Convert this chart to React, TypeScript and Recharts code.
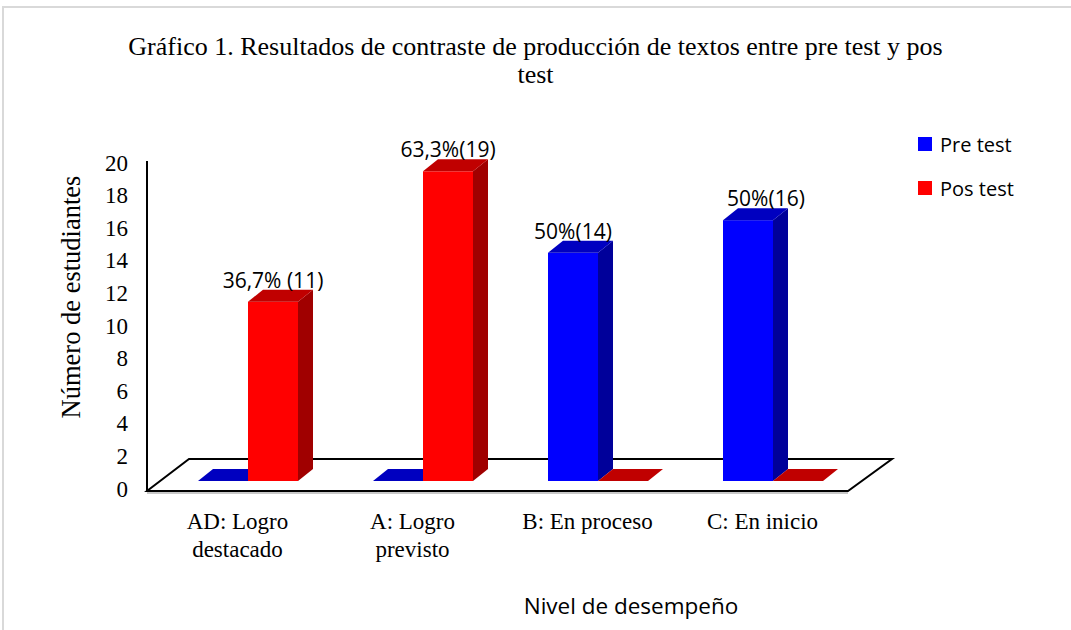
import React from "react";
import { Bar, BarChart, LabelList, Legend, ReferenceArea, XAxis, YAxis } from "recharts";

// data
const categories = ["AD: Logro\ndestacado", "A: Logro\nprevisto", "B: En proceso", "C: En inicio"];
const preTest = [0, 0, 14, 16];
const posTest = [11, 19, 0, 0];
const preLabels = ["", "", "50%(14)", "50%(16)"];
const posLabels = ["36,7% (11)", "63,3%(19)", "", ""];
const yTicks = [0, 2, 4, 6, 8, 10, 12, 14, 16, 18, 20];

const data = categories.map((cat, i) => ({
  cat,
  pre: preTest[i],
  pos: posTest[i],
  preLabel: preLabels[i],
  posLabel: posLabels[i],
}));

const SERIF = '"Liberation Serif", "Times New Roman", serif';
const SANS = '"Open Sans", Calibri, sans-serif';

const DEPTH_X = 15;
const DEPTH_Y = 12;

const palette = {
  pre: { front: "#0000ff", side: "#00009a", top: "#0000c0" },
  pos: { front: "#ff0000", side: "#a00000", top: "#c00000" },
};

// 3d-looking column: front face, right face and top face
const makeBox = (c: { front: string; side: string; top: string }) => (props: any) => {
  const { x, y, width, height } = props;
  const w = width;
  const topFace = `${x},${y} ${x + w},${y} ${x + w + DEPTH_X},${y - DEPTH_Y} ${x + DEPTH_X},${y - DEPTH_Y}`;
  if (!height || height < 0.5) {
    return <polygon points={topFace} fill={c.top} />;
  }
  const b = y + height;
  const side = `${x + w},${b} ${x + w + DEPTH_X},${b - DEPTH_Y} ${x + w + DEPTH_X},${y - DEPTH_Y} ${x + w},${y}`;
  return (
    <g>
      <rect x={x} y={y} width={w} height={height} fill={c.front} />
      <polygon points={side} fill={c.side} />
      <polygon points={topFace} fill={c.top} />
    </g>
  );
};

// floor plane + left wall edge, placed from the plot area
const Floor = (props: any) => {
  const { x, y, width, height } = props;
  const b = y + height;
  const r = x + width;
  const pts = `${x - 13},${b + 10} ${r - 12},${b + 10} ${r + 32},${b - 22} ${x + 29},${b - 22}`;
  return (
    <g>
      <line x1={x - 13} y1={b + 12} x2={r - 12} y2={b + 12} stroke="#c8c8c8" strokeWidth={2} />
      <polygon points={pts} fill="#fff" stroke="#000" strokeWidth={2} />
      <line x1={x - 13} y1={y + 6} x2={x - 13} y2={b + 10} stroke="#000" strokeWidth={2} />
    </g>
  );
};

const YTick = (props: any) => {
  const { x, y, payload } = props;
  return (
    <text x={x} y={y + 8} textAnchor="end" dominantBaseline="central" fontFamily={SERIF} fontSize={23} fill="#000">
      {payload.value}
    </text>
  );
};

const XTick = (props: any) => {
  const { x, y, payload } = props;
  const lines = String(payload.value).split("\n");
  return (
    <g>
      {lines.map((ln, i) => (
        <text
          key={i}
          x={x - 10}
          y={y + 32 + i * 28}
          textAnchor="middle"
          dominantBaseline="central"
          fontFamily={SERIF}
          fontSize={23}
          fill="#000"
        >
          {ln}
        </text>
      ))}
    </g>
  );
};

const makeValueLabel = (shiftLast: number) => (props: any) => {
  const { x, y, width, value, index } = props;
  if (!value) return null;
  const dx = index === 3 ? shiftLast : 0;
  return (
    <text
      x={x + width / 2 + dx}
      y={y - 22}
      textAnchor="middle"
      dominantBaseline="central"
      fontFamily={SANS}
      fontSize={21}
      fill="#000"
    >
      {value}
    </text>
  );
};

const legendItems = [
  { name: "Pre test", color: "#0000ff" },
  { name: "Pos test", color: "#ff0000" },
];

const renderLegend = () => (
  <div style={{ fontFamily: SANS, fontSize: 20, color: "#000" }}>
    {legendItems.map((it) => (
      <div key={it.name} style={{ display: "flex", alignItems: "center", height: 44 }}>
        <span style={{ display: "inline-block", width: 14, height: 14, background: it.color, marginRight: 8 }} />
        <span>{it.name}</span>
      </div>
    ))}
  </div>
);

export default function App() {
  return (
    <div style={{ position: "absolute", left: 0, top: 0, width: 1071, height: 630, overflow: "hidden", background: "#fff" }}>
      <div
        style={{
          position: "absolute",
          left: 2,
          top: 6,
          width: 1200,
          height: 800,
          borderTop: "2px solid #d9d9d9",
          borderLeft: "2px solid #d9d9d9",
        }}
      />
      <div
        style={{
          position: "absolute",
          left: 0,
          top: 33,
          width: 1071,
          textAlign: "center",
          fontFamily: SERIF,
          fontSize: 26,
          lineHeight: "28px",
          color: "#000",
        }}
      >
        <div>Gráfico 1. Resultados de contraste de producción de textos entre pre test y pos</div>
        <div>test</div>
      </div>
      <BarChart
        width={1071}
        height={630}
        data={data}
        margin={{ top: 155, right: 211, bottom: 0, left: 0 }}
        barSize={50}
        barGap={0}
        style={{ position: "absolute", left: 0, top: 0 }}
      >
        <ReferenceArea y1={0} y2={20} shape={<Floor />} fill="none" stroke="none" />
        <XAxis
          dataKey="cat"
          axisLine={false}
          tickLine={false}
          height={149}
          interval={0}
          tick={<XTick />}
          label={(p: any) => {
            const vb = p.viewBox;
            return (
              <text
                x={vb.x + 471}
                y={vb.y + 124}
                textAnchor="middle"
                dominantBaseline="central"
                fontFamily={SANS}
                fontSize={22.5}
                fill="#000"
              >
                Nivel de desempeño
              </text>
            );
          }}
        />
        <YAxis
          domain={[0, 20]}
          ticks={yTicks}
          interval={0}
          width={160}
          axisLine={false}
          tickLine={false}
          tickMargin={26}
          tick={<YTick />}
          label={(p: any) => {
            const vb = p.viewBox;
            const cx = vb.x + 71;
            const cy = vb.y + 142;
            return (
              <text
                x={cx}
                y={cy}
                transform={`rotate(-90, ${cx}, ${cy})`}
                textAnchor="middle"
                dominantBaseline="central"
                fontFamily={SERIF}
                fontSize={26.5}
                fill="#000"
              >
                Número de estudiantes
              </text>
            );
          }}
        />
        <Legend
          layout="vertical"
          align="center"
          verticalAlign="middle"
          content={renderLegend}
          wrapperStyle={{ left: 918, top: 122, width: 150 }}
        />
        <Bar dataKey="pre" name="Pre test" fill="#0000ff" shape={makeBox(palette.pre)} isAnimationActive={false}>
          <LabelList dataKey="preLabel" content={makeValueLabel(18)} />
        </Bar>
        <Bar dataKey="pos" name="Pos test" fill="#ff0000" shape={makeBox(palette.pos)} isAnimationActive={false}>
          <LabelList dataKey="posLabel" content={makeValueLabel(0)} />
        </Bar>
      </BarChart>
    </div>
  );
}
